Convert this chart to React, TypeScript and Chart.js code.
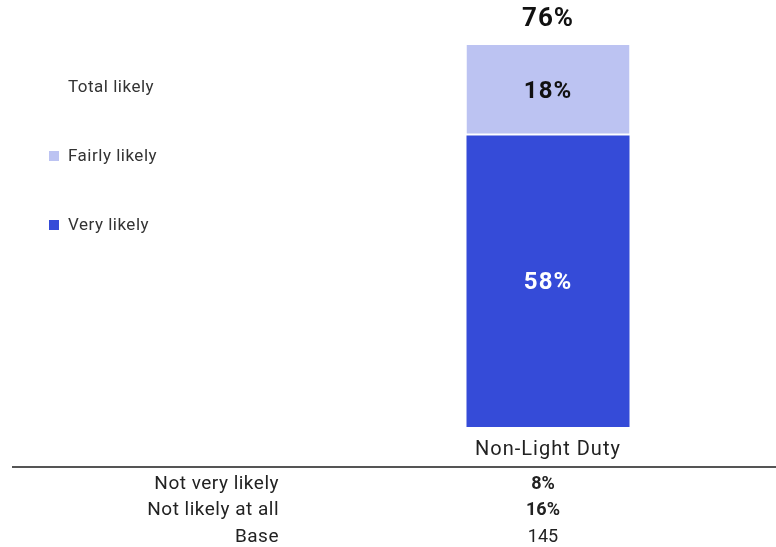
import React, { useEffect, useRef } from "react";
import { Chart, registerables } from "chart.js";

Chart.register(...registerables);

const categories = ["Non-Light Duty"];
const veryLikely = [58];
const fairlyLikely = [18];
const totalLikely = [76];
const legendLabels = ["Total likely", "Fairly likely", "Very likely"];
const tableRowLabels = ["Not very likely", "Not likely at all", "Base"];
const notVeryLikely = [8];
const notLikelyAtAll = [16];
const baseCounts = [145];

const DARK = "#354BD8";
const LIGHT = "#BCC3F2";
const FONT = "Roboto, 'Noto Sans', sans-serif";

export default function App() {
  const ref = useRef<HTMLCanvasElement | null>(null);

  useEffect(() => {
    document.body.style.margin = "0";
    const canvas = ref.current!;
    const overlay = {
      id: "overlay",
      afterDraw(chart: any) {
        const ctx = chart.ctx;
        const m0 = chart.getDatasetMeta(0);
        const m1 = chart.getDatasetMeta(1);
        ctx.save();
        ctx.textAlign = "center";
        ctx.textBaseline = "middle";
        categories.forEach((_c, i) => {
          const b0 = m0.data[i];
          const b1 = m1.data[i];
          ctx.letterSpacing = "1px";
          ctx.font = `bold 24px ${FONT}`;
          ctx.fillStyle = "#ffffff";
          ctx.fillText(`${veryLikely[i]}%`, b0.x, (b0.y + b0.base) / 2 + 2);
          ctx.fillStyle = "#111111";
          ctx.fillText(`${fairlyLikely[i]}%`, b1.x, (b1.y + b1.base) / 2 + 2);
          ctx.font = `bold 26px ${FONT}`;
          const topY = chart.scales.y.getPixelForValue(totalLikely[i]);
          ctx.fillText(`${totalLikely[i]}%`, b1.x, topY - 26);
          // category label
          ctx.letterSpacing = "1px";
          ctx.font = `20px ${FONT}`;
          ctx.fillStyle = "#222222";
          ctx.fillText(categories[i], b0.x, 450);
          // table values
          ctx.letterSpacing = "0px";
          ctx.font = `bold 18px ${FONT}`;
          ctx.fillText(`${notVeryLikely[i]}%`, b0.x - 5, 484);
          ctx.fillText(`${notLikelyAtAll[i]}%`, b0.x - 5, 510);
          ctx.font = `18px ${FONT}`;
          ctx.fillText(`${baseCounts[i]}`, b0.x - 5, 537);
        });
        // table line
        ctx.strokeStyle = "#555555";
        ctx.lineWidth = 2;
        ctx.beginPath();
        ctx.moveTo(12, 467);
        ctx.lineTo(776, 467);
        ctx.stroke();
        // table row labels
        ctx.textAlign = "right";
        ctx.letterSpacing = "0.5px";
        ctx.font = `19px ${FONT}`;
        ctx.fillStyle = "#222222";
        const rowY = [484, 510, 537];
        tableRowLabels.forEach((l, i) => ctx.fillText(l, 279, rowY[i]));
        // legend
        ctx.textAlign = "left";
        ctx.letterSpacing = "0.5px";
        ctx.font = `17px ${FONT}`;
        const legY = [88, 157, 226];
        const legColors = [null, LIGHT, DARK];
        legendLabels.forEach((l, i) => {
          const c = legColors[i];
          if (c) {
            ctx.fillStyle = c;
            ctx.fillRect(49, legY[i] - 6, 10, 10);
          }
          ctx.fillStyle = "#333333";
          ctx.fillText(l, 68, legY[i]);
        });
        ctx.restore();
      },
    };

    const chart = new Chart(canvas, {
      type: "bar",
      data: {
        labels: categories,
        datasets: [
          {
            label: legendLabels[2],
            data: veryLikely,
            backgroundColor: DARK,
            borderWidth: 0,
          },
          {
            label: legendLabels[1],
            data: fairlyLikely,
            backgroundColor: LIGHT,
            borderColor: "#ffffff",
            borderWidth: { bottom: 2, top: 0, left: 0, right: 0 },
            borderSkipped: false,
          },
        ],
      },
      options: {
        animation: false,
        responsive: false,
        maintainAspectRatio: false,
        layout: { padding: { left: 391, right: 71, top: 25, bottom: 120 } },
        plugins: { legend: { display: false }, tooltip: { enabled: false } },
        scales: {
          x: {
            stacked: true,
            display: false,
            grid: { display: false },
          },
          y: {
            stacked: true,
            display: false,
            min: 0,
            max: 80,
            grid: { display: false },
          },
        },
        datasets: { bar: { categoryPercentage: 1, barPercentage: 163 / 314 } },
      } as any,
      plugins: [overlay],
    });
    return () => chart.destroy();
  }, []);

  return (
    <div style={{ width: 776, height: 547, background: "#ffffff" }}>
      <canvas ref={ref} width={776} height={547} style={{ display: "block" }} />
    </div>
  );
}
